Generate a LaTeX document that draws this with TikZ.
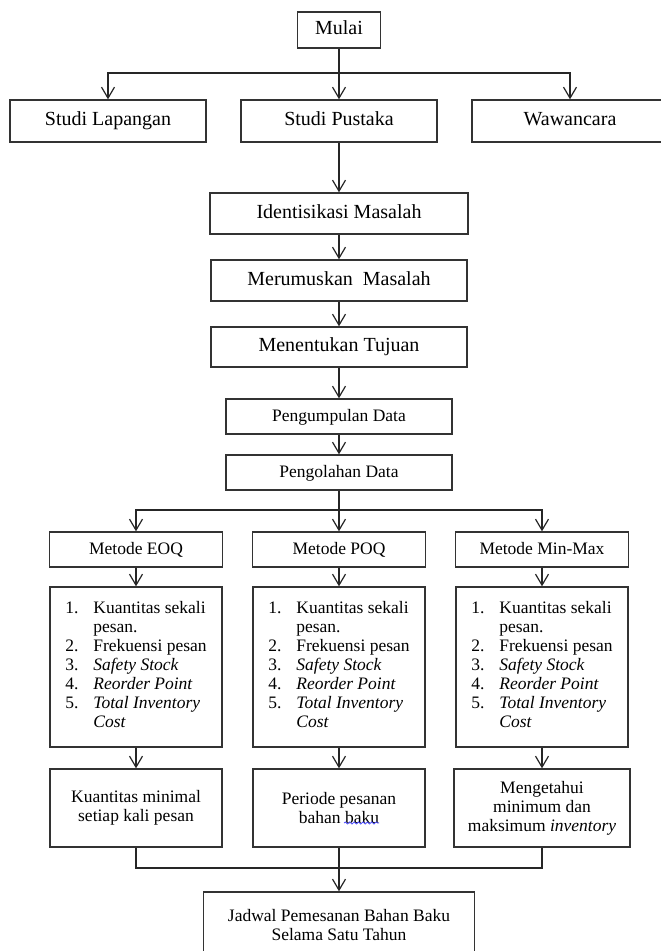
\documentclass[tikz,border=0pt]{standalone}
\usepackage{fontspec}
\setmainfont{Liberation Serif}
\usepackage{tikz}
\usetikzlibrary{arrows.meta,decorations.pathmorphing}

\newcommand{\isidaftar}{%
\begin{tabular}{@{}p{14pt}@{}l@{}}
1. & Kuantitas sekali\\
   & pesan.\\
2. & Frekuensi pesan\\
3. & \textit{Safety Stock}\\
4. & \textit{Reorder Point}\\
5. & \textit{Total Inventory}\\
   & \textit{Cost}
\end{tabular}}

\begin{document}
\begin{tikzpicture}[->,>={Straight Barb[length=5.5pt,width=6.5pt]},align=center,line width=0.6pt,draw=black!85,
  kotak/.style={draw=black!80,line width=0.7pt,inner sep=2pt,font=\fontsize{10}{12}\selectfont},
  kotak kecil/.style={kotak,font=\fontsize{8.75}{9.5}\selectfont},
  satu baris/.style={text height=6.5pt,text depth=1.5pt}]

\fill[white] (0,0) rectangle (330pt,-475.5pt);
\useasboundingbox (0,0) rectangle (330pt,-475.5pt);

\node[kotak, satu baris, minimum width=41.5pt, minimum height=18pt] (mulai) at (169.5pt,-15pt) {Mulai};
\coordinate[below of=mulai, node distance=21.5pt] (cabang atas);
\node[kotak, satu baris, minimum width=98pt, minimum height=21pt, node distance=45.5pt] (studi pustaka) [below of=mulai] {Studi Pustaka};
\node[kotak, satu baris, minimum width=98pt, minimum height=21pt, node distance=115.5pt] (studi lapangan) [left of=studi pustaka] {Studi Lapangan};
\node[kotak, satu baris, minimum width=98pt, minimum height=21pt, node distance=115.5pt] (wawancara) [right of=studi pustaka] {Wawancara};
\node[kotak, satu baris, minimum width=129pt, minimum height=20.5pt, node distance=46.25pt] (identifikasi) [below of=studi pustaka] {Identisikasi Masalah};
\node[kotak, satu baris, minimum width=128pt, minimum height=20.5pt, node distance=33.5pt] (merumuskan) [below of=identifikasi] {Merumuskan\ \ Masalah};
\node[kotak, satu baris, minimum width=128pt, minimum height=20pt, node distance=33.25pt] (menentukan) [below of=merumuskan] {Menentukan Tujuan};
\node[kotak kecil, satu baris, minimum width=113pt, minimum height=17.5pt, node distance=34.75pt] (pengumpulan) [below of=menentukan] {Pengumpulan Data};
\node[kotak kecil, satu baris, minimum width=113pt, minimum height=17.5pt, node distance=28pt] (pengolahan) [below of=pengumpulan] {Pengolahan Data};
\coordinate[below of=pengolahan, node distance=18.75pt] (cabang tengah);

\node[kotak kecil, satu baris, minimum width=86.5pt, minimum height=17.5pt, node distance=38.5pt] (metode poq) [below of=pengolahan] {Metode POQ};
\node[kotak kecil, satu baris, minimum width=86.5pt, minimum height=17.5pt, node distance=101.5pt] (metode eoq) [left of=metode poq] {Metode EOQ};
\node[kotak kecil, satu baris, minimum width=86.5pt, minimum height=17.5pt, node distance=101.5pt] (metode minmax) [right of=metode poq] {Metode Min-Max};

\node[kotak kecil, minimum width=86pt, minimum height=80pt, node distance=58.75pt] (daftar eoq) [below of=metode eoq] {\isidaftar};
\node[kotak kecil, minimum width=86pt, minimum height=80pt, node distance=58.75pt] (daftar poq) [below of=metode poq] {\isidaftar};
\node[kotak kecil, minimum width=86pt, minimum height=80pt, node distance=58.75pt] (daftar minmax) [below of=metode minmax] {\isidaftar};

\node[kotak kecil, minimum width=86pt, minimum height=39pt, node distance=70.5pt] (hasil eoq) [below of=daftar eoq] {Kuantitas minimal\\ setiap kali pesan};
\node[kotak kecil, minimum width=86pt, minimum height=39pt, node distance=70.5pt] (hasil poq) [below of=daftar poq] {Periode pesanan\\ bahan baku};
\node[kotak kecil, minimum width=88pt, minimum height=39pt, node distance=70.5pt] (hasil minmax) [below of=daftar minmax] {Mengetahui\\ minimum dan\\ maksimum \textit{inventory}};
\coordinate[below of=hasil poq, node distance=30pt] (cabang bawah);
\node[kotak kecil, minimum width=135.5pt, minimum height=33pt, node distance=58.5pt] (jadwal) [below of=hasil poq] {Jadwal Pemesanan Bahan Baku\\ Selama Satu Tahun};

% cabang dari Mulai
\draw[-] (mulai) -- (cabang atas);
\draw (cabang atas) -| (studi lapangan);
\draw (cabang atas) -| (wawancara);
\draw (cabang atas) -- (studi pustaka);

\path (studi pustaka) edge (identifikasi)
      (identifikasi)  edge (merumuskan)
      (merumuskan)    edge (menentukan)
      (menentukan)    edge (pengumpulan)
      (pengumpulan)   edge (pengolahan)
      (metode eoq)    edge (daftar eoq)
      (metode poq)    edge (daftar poq)
      (metode minmax) edge (daftar minmax)
      (daftar eoq)    edge (hasil eoq)
      (daftar poq)    edge (hasil poq)
      (daftar minmax) edge (hasil minmax)
      ;

% cabang ke metode
\draw[-] (pengolahan) -- (cabang tengah);
\draw (cabang tengah) -| (metode eoq);
\draw (cabang tengah) -| (metode minmax);
\draw (cabang tengah) -- (metode poq);

% gabung ke jadwal
\draw[-] (hasil eoq) |- (cabang bawah);
\draw[-] (hasil minmax) |- (cabang bawah);
\draw (hasil poq) -- (cabang bawah) -- (jadwal);

\draw[-,blue!70,line width=0.4pt,decorate,decoration={snake,amplitude=0.5pt,segment length=2.2pt}] ([shift={(2.5pt,-7.5pt)}]hasil poq.center) -- ([shift={(20pt,-7.5pt)}]hasil poq.center);

\end{tikzpicture}
\end{document}
